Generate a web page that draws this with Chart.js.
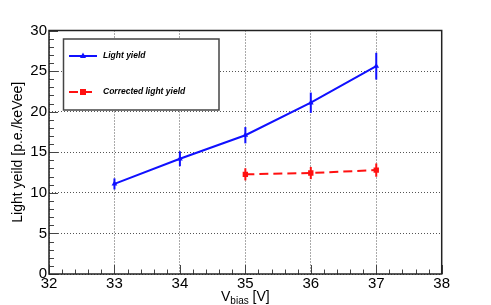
<!DOCTYPE html>
<html>
<head>
<meta charset="utf-8">
<script src="https://cdn.jsdelivr.net/npm/chart.js@4/dist/chart.umd.min.js"></script>
<style>
html,body{margin:0;padding:0;background:#fff;}
#wrap{width:491px;height:305px;position:relative;}
</style>
</head>
<body>
<div id="wrap"><canvas id="c" width="491" height="305"></canvas></div>
<script>
// ---- data ----
const voltages = [33, 34, 35, 36, 37];
const lightYield = [11.1, 14.2, 17.1, 21.1, 25.6];
const lightYieldErr = [0.68, 0.92, 1.0, 1.25, 1.65];
const correctedVoltages = [35, 36, 37];
const correctedYield = [12.28, 12.44, 12.8];
const correctedErr = [0.75, 0.75, 0.82];
const seriesLabels = ['Light yield', 'Corrected light yield'];
const xTicks = [32, 33, 34, 35, 36, 37, 38];
const yTicks = [0, 5, 10, 15, 20, 25, 30];
const yTitle = 'Light yeild [p.e./keVee]';
const xTitleMain = 'V';
const xTitleSub = 'bias';
const xTitleUnit = ' [V]';

const FONT = '"Liberation Sans", Arial, Helvetica, sans-serif';

function pts(xs, ys, es) {
  return xs.map((x, i) => ({x: x, y: ys[i], err: es[i]}));
}

const rootPlugin = {
  id: 'rootStyle',
  beforeDatasetsDraw(chart) {
    const {ctx, chartArea: a, scales: {x, y}} = chart;
    ctx.save();
    ctx.strokeStyle = '#444';
    ctx.lineWidth = 1;
    for (let v = 32; v <= 38.0001; v += 0.2) {
      const px = Math.round(x.getPixelForValue(v)) + 0.5;
      const major = Math.abs(v - Math.round(v)) < 1e-6;
      const len = major ? 9 : 4.5;
      ctx.beginPath(); ctx.moveTo(px, a.bottom); ctx.lineTo(px, a.bottom - len); ctx.stroke();
    }
    for (let v = 0; v <= 30.0001; v += 1) {
      const py = Math.round(y.getPixelForValue(v)) + 0.5;
      const major = v % 5 === 0;
      const len = major ? 9 : 5;
      ctx.beginPath(); ctx.moveTo(a.left, py); ctx.lineTo(a.left + len, py); ctx.stroke();
    }
    ctx.restore();
  },
  afterDatasetsDraw(chart) {
    const {ctx, chartArea: a, scales: {x, y}} = chart;
    ctx.save();
    chart.data.datasets.forEach(ds => {
      ctx.strokeStyle = ds.borderColor;
      ctx.lineWidth = 2;
      ds.data.forEach(p => {
        const px = x.getPixelForValue(p.x);
        ctx.beginPath();
        ctx.moveTo(px, y.getPixelForValue(p.y - p.err));
        ctx.lineTo(px, y.getPixelForValue(p.y + p.err));
        ctx.stroke();
      });
    });
    ctx.strokeStyle = '#222';
    ctx.lineWidth = 1.5;
    ctx.strokeRect(a.left, a.top, a.right - a.left, a.bottom - a.top);

    const lx = 63.5, ly = 39, lw = 155.5, lh = 71;
    ctx.fillStyle = '#fff';
    ctx.fillRect(lx, ly, lw, lh);
    ctx.strokeStyle = '#444';
    ctx.lineWidth = 1.5;
    ctx.strokeRect(lx, ly, lw, lh);
    const rows = [56, 92];
    chart.data.datasets.forEach((ds, i) => {
      const ry = rows[i];
      ctx.strokeStyle = ds.borderColor;
      ctx.lineWidth = 2;
      ctx.setLineDash(ds.borderDash || []);
      ctx.beginPath(); ctx.moveTo(69, ry); ctx.lineTo(97, ry); ctx.stroke();
      ctx.setLineDash([]);
      ctx.fillStyle = ds.borderColor;
      if (ds.pointStyle === 'triangle') {
        ctx.beginPath();
        ctx.moveTo(83, ry - 3.5); ctx.lineTo(86, ry + 2); ctx.lineTo(80, ry + 2); ctx.closePath(); ctx.fill();
      } else {
        ctx.fillRect(80, ry - 3, 6, 6);
      }
      ctx.fillStyle = '#000';
      ctx.font = 'italic bold 8.5px ' + FONT;
      ctx.textBaseline = 'middle';
      ctx.textAlign = 'left';
      ctx.fillText(ds.label, 103, ry);
    });

    ctx.fillStyle = '#000';
    ctx.save();
    ctx.translate(18, (a.top + a.bottom) / 2);
    ctx.rotate(-Math.PI / 2);
    ctx.font = '14px ' + FONT;
    ctx.textAlign = 'center';
    ctx.textBaseline = 'middle';
    ctx.fillText(yTitle, 0, 0);
    ctx.restore();

    ctx.textBaseline = 'alphabetic';
    ctx.textAlign = 'left';
    ctx.font = '14px ' + FONT;
    const wV = ctx.measureText(xTitleMain).width;
    const wU = ctx.measureText(xTitleUnit).width;
    ctx.font = '10px ' + FONT;
    const wS = ctx.measureText(xTitleSub).width;
    let tx = (a.left + a.right) / 2 - (wV + wS + wU) / 2;
    const by = 300.5;
    ctx.font = '14px ' + FONT;
    ctx.fillText(xTitleMain, tx, by); tx += wV;
    ctx.font = '10px ' + FONT;
    ctx.fillText(xTitleSub, tx, by + 3); tx += wS;
    ctx.font = '14px ' + FONT;
    ctx.fillText(xTitleUnit, tx, by);
    ctx.restore();
  }
};

new Chart(document.getElementById('c'), {
  type: 'line',
  data: {
    datasets: [
      {
        label: seriesLabels[0],
        data: pts(voltages, lightYield, lightYieldErr),
        borderColor: '#1010ff',
        backgroundColor: '#1010ff',
        borderWidth: 2,
        pointStyle: 'triangle',
        pointRadius: 3.3,
        pointBorderWidth: 0,
        tension: 0
      },
      {
        label: seriesLabels[1],
        data: pts(correctedVoltages, correctedYield, correctedErr),
        borderColor: '#ff1010',
        backgroundColor: '#ff1010',
        borderWidth: 2,
        borderDash: [9, 5],
        pointStyle: 'rect',
        pointRadius: 3.8,
        pointBorderWidth: 0,
        tension: 0
      }
    ]
  },
  options: {
    responsive: false,
    animation: false,
    devicePixelRatio: 1,
    layout: {padding: {left: 0, right: 49.3, top: 30.5, bottom: 0}},
    plugins: {legend: {display: false}, tooltip: {enabled: false}},
    scales: {
      x: {
        type: 'linear',
        min: 32, max: 38,
        afterBuildTicks: s => { s.ticks = xTicks.map(v => ({value: v})); },
        afterFit: s => { s.height = 31; },
        ticks: {color: '#000', font: {family: FONT, size: 15}, padding: 1, maxRotation: 0, autoSkip: false},
        grid: {color: '#555', lineWidth: 1, drawTicks: false},
        border: {display: false, dash: [1, 2]}
      },
      y: {
        type: 'linear',
        min: 0, max: 30,
        afterBuildTicks: s => { s.ticks = yTicks.map(v => ({value: v})); },
        afterFit: s => { s.width = 49; },
        ticks: {color: '#000', font: {family: FONT, size: 15}, padding: 2},
        grid: {color: '#555', lineWidth: 1, drawTicks: false},
        border: {display: false, dash: [1, 2]}
      }
    }
  },
  plugins: [rootPlugin]
});
</script>
</body>
</html>
